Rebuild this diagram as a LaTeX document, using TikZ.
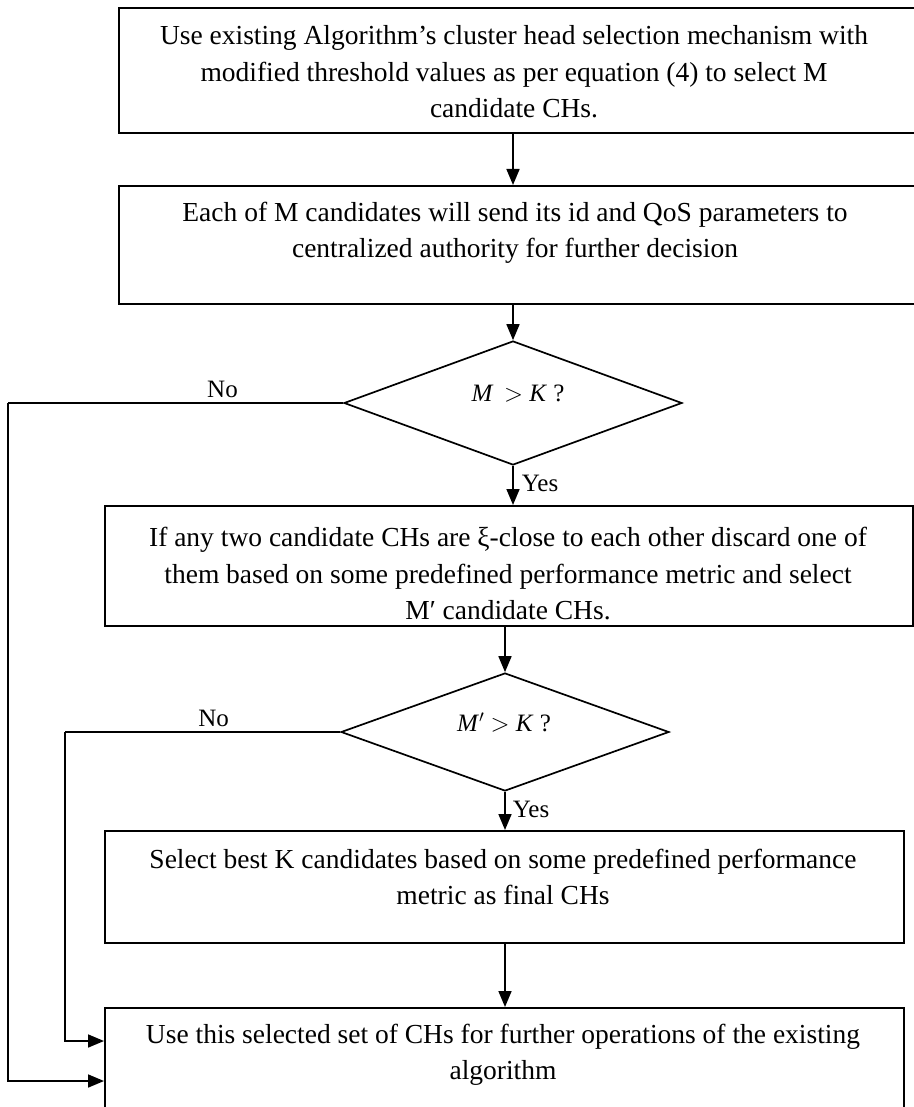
\documentclass[tikz,border=0pt]{standalone}
\usepackage{fontspec}
\setmainfont{Liberation Serif}
\usetikzlibrary{shapes.geometric,arrows.meta}
\begin{document}
\begin{tikzpicture}[x=1pt,y=-1pt,
  box/.style={draw,line width=1.7pt,rectangle,inner sep=0pt,anchor=north west},
  dec/.style={draw,line width=1.7pt,diamond,inner sep=0pt,minimum width=338pt,minimum height=124pt},
  txt/.style={align=center,inner sep=0pt,font=\fontsize{27.5}{36.5}\selectfont},
  lbl/.style={inner sep=0pt,font=\fontsize{25}{28}\selectfont},
  arr/.style={line width=1.7pt,-{Triangle[length=16pt,width=13pt]}},
  ln/.style={line width=1.7pt}]
\useasboundingbox (0,0) rectangle (913,1107);
% boxes
\node[box,minimum width=800pt,minimum height=125pt] (b1) at (118,7) {};
\node[box,minimum width=800pt,minimum height=118pt] (b2) at (118,185) {};
\node[dec] (d1) at (513,403) {};
\node[box,minimum width=808pt,minimum height=120pt] (b3) at (104,505) {};
\node[dec,minimum width=328pt,minimum height=118pt] (d2) at (505,732) {};
\node[box,minimum width=799pt,minimum height=112pt] (b4) at (104,830) {};
\node[box,minimum width=799pt,minimum height=130pt] (b5) at (104,1007) {};
% texts
\node[txt] (t1) at (514,72) {Use existing Algorithm’s cluster head selection mechanism with\\modified threshold values as per equation (4) to select M\\candidate CHs.};
\node[txt] (t2) at (515,233) {Each of M candidates will send its id and QoS parameters to\\centralized authority for further decision};
\node[txt] (t3) at (508,574) {If any two candidate CHs are ξ-close to each other discard one of\\them based on some predefined performance metric and select\\M′ candidate CHs.};
\node[txt] (t4) at (503,877) {Select best K candidates based on some predefined performance\\metric as final CHs};
\node[txt] (t5) at (503,1055) {Use this selected set of CHs for further operations of the existing\\algorithm};
\node[lbl] (q1) at (518,394) {\textit{M} \,\(>\) \textit{K} ?};
\node[lbl] (q2) at (504,723) {\textit{M}\(^{\prime}\) \(>\) \textit{K} ?};
% coordinates
\coordinate (c1) at (8,403);
\coordinate (c2) at (8,1081);
\coordinate (e1) at (b5.west |- c2);
\coordinate (c3) at (65,732);
\coordinate (c4) at (65,1041);
\coordinate (e2) at (b5.west |- c4);
% arrows
\draw[arr] (b1.south -| 513,0) -- (b2.north -| 513,0);
\draw[arr] (b2.south -| 513,0) -- (d1.north);
\draw[arr] (d1.south) -- (b3.north -| d1.south) node[lbl,pos=0.45,anchor=west,xshift=8pt] (y1) {Yes};
\draw[arr] (b3.south -| d2.north) -- (d2.north);
\draw[arr] (d2.south) -- (b4.north -| d2.south) node[lbl,pos=0.45,anchor=west,xshift=7pt] (y2) {Yes};
\draw[arr] (b4.south -| d2.south) -- (b5.north -| d2.south);
\draw[ln] (d1.west) -- (c1) node[lbl,pos=0.36,above=4pt] (n1) {No};
\draw[arr] (c1) -- (c2) -- (e1);
\draw[ln] (d2.west) -- (c3) node[lbl,pos=0.46,above=4pt] (n2) {No};
\draw[arr] (c3) -- (c4) -- (e2);
\end{tikzpicture}
\end{document}
